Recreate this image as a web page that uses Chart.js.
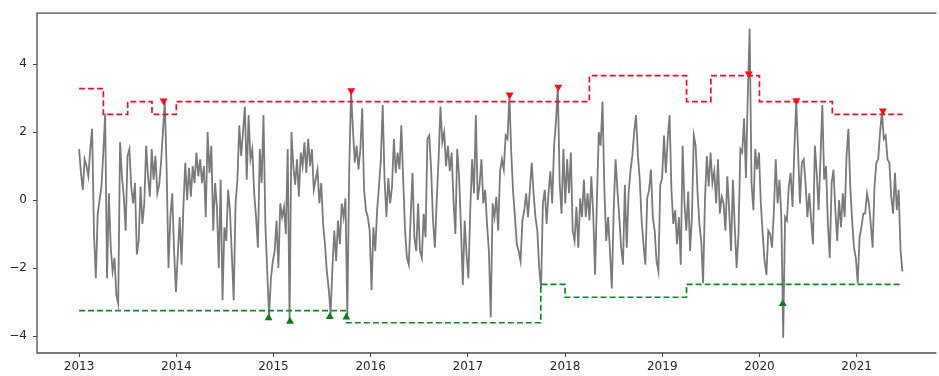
<!DOCTYPE html>
<html>
<head>
<meta charset="utf-8">
<script src="https://cdn.jsdelivr.net/npm/chart.js@4/dist/chart.umd.min.js"></script>
<style>
  html, body { margin: 0; padding: 0; background: #fff; overflow: hidden; }
  #wrap { width: 939px; height: 376px; position: relative; }
</style>
</head>
<body>
<div id="wrap"><canvas id="signalChart"></canvas></div>
<script>
// weekly readings, first one on 2013-01-01
const startYear = 2013;
const stepDays = 7;
const weeklyValues = [
  // 2013
  1.5, 0.8, 0.3, 1.2, 1.0, 0.7, 1.5, 2.1, -1.0, -2.3, -0.4, 0.0, 0.4, 1.4, 2.55, -2.3,
  0.2, -1.4, -2.1, -1.7, -2.8, -3.05, 1.7, 0.7, 0.1, -0.9, 1.3, 1.5, 0.4, -0.1, 0.5, -1.6,
  -1.2, 0.4, -0.7, -0.1, 1.6, 0.7, 0.1, 1.5, 0.6, 1.3, 0.2, 0.45, 1.1, 2.0, 2.9, 0.9,
  -2.0, -0.5, 0.2, -1.5, -2.7,
  // 2014
  -1.6, -0.5, -1.9, -0.2, 1.1, 0.0, 0.95, 0.1, 1.0, 0.5, 1.4, 0.7, 1.2, 0.5, 1.0, -0.5,
  2.0, 0.8, 1.6, -0.9, 0.5, -0.2, -2.0, 0.6, -2.95, -0.8, -1.2, 0.3, -0.3, -1.6, -2.95, -0.1,
  0.6, 2.2, 1.3, 2.0, 2.75, 0.6, 2.5, 1.2, 1.5, 0.2, -0.5, -1.4, 1.5, 0.5, 2.5, -0.7,
  -2.1, -3.42, -2.3, -1.8,
  // 2015
  -1.5, -0.6, -2.0, -0.1, -0.5, -0.2, -1.0, 1.5, -3.56, 2.0, 1.0, 0.45, 1.2, 0.1, 1.4, 1.0,
  1.7, 0.8, 1.8, 1.0, 1.5, 0.3, 0.6, 0.9, -0.1, 0.5, -0.7, -1.3, -2.1, -2.6, -3.36, -2.0,
  -0.9, -1.8, -0.6, -1.3, -0.1, -0.5, 0.05, -3.38, 0.8, 3.2, 2.1, 1.1, 1.6, 0.9, 1.5, 2.7,
  0.3, -0.3, -0.5, -0.9,
  // 2016
  -2.65, -0.8, -1.5, -0.3, 0.4, 1.2, 2.8, 0.6, -0.5, 0.65, -0.1, 0.4, 1.8, 0.8, 1.4, 0.9,
  2.2, 0.6, -0.9, -1.7, -1.9, -0.5, 0.8, -1.1, -1.5, -0.1, -1.5, -1.7, -0.4, -1.1, 1.8, 1.9,
  0.9, -0.6, -1.4, 0.0, 1.2, 2.75, 1.7, 2.0, 1.0, 1.6, 0.85, 1.4, 0.0, -1.0, 1.5, 0.7,
  -0.8, -2.5, -0.6, -1.6, -2.3,
  // 2017
  -0.3, 1.2, 0.2, 2.5, 0.0, 0.45, 1.2, -0.1, 0.3, -0.7, -1.5, -3.45, -0.1, -0.5, 0.1, -0.9,
  0.85, 1.2, 0.9, 1.9, 1.8, 3.1, 1.4, 0.25, -0.5, -1.3, -1.5, -1.8, -0.6, -0.3, 0.2, -0.5,
  0.3, 1.1, 0.2, -0.5, -0.9, -2.0, -2.6, -0.1, 0.3, -0.7, 0.2, 0.85, -0.1, 1.6, 2.3, 3.35,
  0.5, -0.4, 1.5, -0.1,
  // 2018
  1.2, 0.2, 1.4, -0.9, -1.2, -0.2, -1.4, 0.05, -0.5, 0.6, -0.5, 0.2, -0.6, 0.7, -0.4, -2.2,
  0.0, 2.0, 1.6, 2.9, 0.3, -1.2, -0.5, -1.5, -2.6, -0.3, 1.2, 0.3, -0.5, -1.4, -1.9, 0.45,
  -1.4, 0.2, 0.85, 1.3, 2.0, 2.5, 1.3, 0.6, -0.6, -1.3, -1.9, 0.05, 0.3, 0.9, -0.5, -0.9,
  -1.8, -2.1, 0.45, 0.65,
  // 2019
  1.9, 0.8, 1.8, 2.5, 0.3, -0.7, -0.3, -1.3, -0.5, -1.9, 1.6, -0.1, -0.9, 0.25, -1.5, -0.5,
  1.9, 1.6, 0.25, -0.7, -1.2, -2.45, 0.0, 1.3, 0.4, 1.4, 0.5, 0.85, -0.1, 1.2, -0.4, 0.1,
  -0.1, -0.9, 0.7, -0.3, -1.5, 0.6, -0.8, -2.0, -1.0, 1.5, 1.4, 2.4, 0.65, 3.1, 5.05, 0.5,
  -0.3, 1.5, 0.9, 1.4,
  // 2020
  -0.1, -1.0, -1.8, -2.2, -0.9, -1.0, -1.4, -0.3, 1.2, -0.1, 0.6, -0.5, -4.05, -0.5, -0.6, 0.4,
  0.8, -0.2, 1.5, 2.9, 1.4, -0.1, 1.1, 1.2, 0.5, -0.5, 0.2, -0.6, -1.3, 1.6, 0.8, -0.3,
  1.2, 2.8, 0.6, 1.0, -0.7, -1.7, 0.5, 0.9, -0.3, -1.2, 0.0, -0.8, 0.2, -0.5, 1.3, 2.1,
  0.4, -0.6, -1.4, -1.7, -2.45,
  // 2021
  -1.1, -0.8, -0.4, -0.4, 0.2, -0.1, -0.7, -1.4, 0.4, 1.1, 1.2, 2.0, 2.6, 1.8, 1.9, 1.2,
  1.1, 0.1, -0.4, 0.8, -0.3, 0.3, -1.5, -2.1
];

// quarterly thresholds (value holds from each start until the next one)
const bandStarts = [
  2013.0, 2013.25, 2013.5, 2013.75, 2014.0, 2014.25, 2014.5, 2014.75,
  2015.0, 2015.25, 2015.5, 2015.75, 2016.0, 2016.25, 2016.5, 2016.75,
  2017.0, 2017.25, 2017.5, 2017.75, 2018.0, 2018.25, 2018.5, 2018.75,
  2019.0, 2019.25, 2019.5, 2019.75, 2020.0, 2020.25, 2020.5, 2020.75,
  2021.0, 2021.25, 2021.47
];
const upperBand = [
  3.28, 2.52, 2.9, 2.52, 2.9, 2.9, 2.9, 2.9,
  2.9, 2.9, 2.9, 2.9, 2.9, 2.9, 2.9, 2.9,
  2.9, 2.9, 2.9, 2.9, 2.9, 3.66, 3.66, 3.66,
  3.66, 2.9, 3.66, 3.66, 2.9, 2.9, 2.9, 2.52,
  2.52, 2.52, 2.52
];
const lowerBand = [
  -3.25, -3.25, -3.25, -3.25, -3.25, -3.25, -3.25, -3.25,
  -3.25, -3.25, -3.25, -3.61, -3.61, -3.61, -3.61, -3.61,
  -3.61, -3.61, -3.61, -2.48, -2.86, -2.86, -2.86, -2.86,
  -2.86, -2.48, -2.48, -2.48, -2.48, -2.48, -2.48, -2.48,
  -2.48, -2.48, -2.48
];

// flagged points
const peakDates = [2013.87, 2015.80, 2017.43, 2017.93, 2019.89, 2020.38, 2021.27];
const peakValues = [2.92, 3.22, 3.10, 3.33, 3.72, 2.93, 2.63];
const troughDates = [2014.95, 2015.17, 2015.58, 2015.75, 2020.24];
const troughValues = [-3.47, -3.57, -3.43, -3.45, -3.05];

const yearTicks = [2013, 2014, 2015, 2016, 2017, 2018, 2019, 2020, 2021];
const valueTicks = [-4, -2, 0, 2, 4];

const seriesPoints = weeklyValues.map((v, i) => ({ x: startYear + (i * stepDays) / 365.25, y: v }));
const upperPoints = bandStarts.map((x, i) => ({ x, y: upperBand[i] }));
const lowerPoints = bandStarts.map((x, i) => ({ x, y: lowerBand[i] }));
const peakPoints = peakDates.map((x, i) => ({ x, y: peakValues[i] }));
const troughPoints = troughDates.map((x, i) => ({ x, y: troughValues[i] }));

const frame = {
  id: "frame",
  afterDatasetsDraw(chart) {
    const { ctx, chartArea: a } = chart;
    ctx.save();
    ctx.strokeStyle = "#4d4d4d";
    ctx.lineWidth = 1.3;
    ctx.beginPath();
    ctx.moveTo(a.right + 2, a.top);
    ctx.lineTo(a.left, a.top);
    ctx.lineTo(a.left, a.bottom);
    ctx.lineTo(a.right + 2, a.bottom);
    ctx.stroke();
    ctx.restore();
  },
};

const font = { family: "'DejaVu Sans', sans-serif", size: 12 };

new Chart(document.getElementById("signalChart"), {
  type: "line",
  data: {
    datasets: [
      {
        data: peakPoints,
        showLine: false,
        pointStyle: "triangle",
        rotation: 180,
        pointRadius: 4.6,
        backgroundColor: "#ff0a1e",
        borderColor: "#ff0a1e",
        borderWidth: 0,
        order: 0,
      },
      {
        data: troughPoints,
        showLine: false,
        pointStyle: "triangle",
        pointRadius: 4.6,
        backgroundColor: "#0a7f1a",
        borderColor: "#0a7f1a",
        borderWidth: 0,
        order: 0,
      },
      {
        data: upperPoints,
        stepped: "before",
        borderColor: "#f0102e",
        borderWidth: 1.7,
        borderDash: [6, 3],
        pointRadius: 0,
        order: 1,
      },
      {
        data: lowerPoints,
        stepped: "before",
        borderColor: "#108a22",
        borderWidth: 1.7,
        borderDash: [6, 3],
        pointRadius: 0,
        order: 1,
      },
      {
        data: seriesPoints,
        borderColor: "#7a7a7a",
        borderWidth: 1.8,
        pointRadius: 0,
        tension: 0,
        order: 2,
      },
    ],
  },
  options: {
    responsive: true,
    maintainAspectRatio: false,
    animation: false,
    devicePixelRatio: 1,
    layout: { padding: { top: 10, right: 0, left: 0, bottom: 0 } },
    plugins: { legend: { display: false }, tooltip: { enabled: false } },
    scales: {
      x: {
        type: "linear",
        min: 2012.567,
        max: 2021.8,
        afterBuildTicks: (s) => { s.ticks = yearTicks.map((v) => ({ value: v })); },
        afterFit: (s) => { s.height = 23; },
        border: { display: false },
        grid: { drawOnChartArea: false, drawTicks: true, tickLength: 4, color: "#444" },
        ticks: {
          autoSkip: false,
          maxRotation: 0,
          padding: 3,
          color: "#262626",
          font,
          callback: (v) => String(v),
        },
      },
      y: {
        min: -4.5,
        max: 5.5,
        afterBuildTicks: (s) => { s.ticks = valueTicks.map((v) => ({ value: v })); },
        afterFit: (s) => { s.width = 37; },
        border: { display: false },
        grid: { drawOnChartArea: false, drawTicks: true, tickLength: 4, color: "#444" },
        ticks: {
          padding: 6,
          color: "#262626",
          font,
          callback: (v) => String(v).replace("-", "\u2212"),
        },
      },
    },
  },
  plugins: [frame],
});
</script>
</body>
</html>
